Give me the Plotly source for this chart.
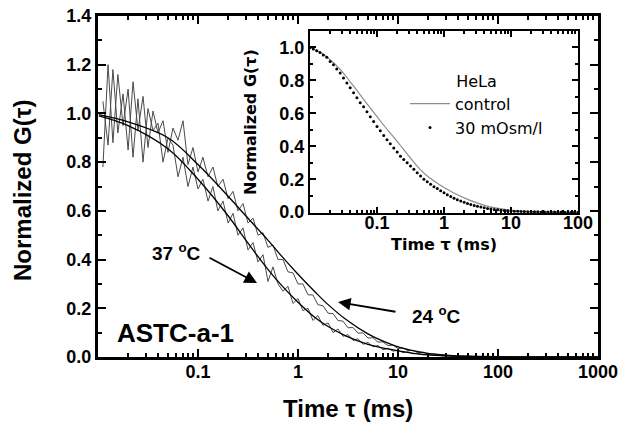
import plotly.graph_objects as go

# ---------------- data ----------------
# lag-time grid (ms)
tau_grid = [0.01, 0.0112, 0.0126, 0.0141, 0.0158, 0.0178, 0.02, 0.0224, 0.0251, 0.0282,
            0.0316, 0.0355, 0.0398, 0.0447, 0.0501, 0.0562, 0.0631, 0.0708, 0.0794, 0.0891,
            0.1, 0.112, 0.126, 0.141, 0.158, 0.178, 0.2, 0.224, 0.251, 0.282,
            0.316, 0.355, 0.398, 0.447, 0.501, 0.562, 0.631, 0.708, 0.794, 0.891,
            1.0, 1.12, 1.26, 1.41, 1.58, 1.78, 2.0, 2.24, 2.51, 2.82,
            3.16, 3.55, 3.98, 4.47, 5.01, 5.62, 6.31, 7.08, 7.94, 8.91,
            10.0, 11.2, 12.6, 14.1, 15.8, 17.8, 20.0, 22.4, 25.1, 28.2,
            31.6, 35.5, 39.8, 44.7, 50.1, 56.2, 63.1, 70.8, 79.4, 89.1, 100.0]

tau_main = [0.0112, 0.0126, 0.0141, 0.0158, 0.0178, 0.02, 0.0224, 0.0251, 0.0282,
            0.0316, 0.0355, 0.0398, 0.0447, 0.0501, 0.0562, 0.0631, 0.0708, 0.0794, 0.0891,
            0.1, 0.112, 0.126, 0.141, 0.158, 0.178, 0.2, 0.224, 0.251, 0.282,
            0.316, 0.355, 0.398, 0.447, 0.501, 0.562, 0.631, 0.708, 0.794, 0.891,
            1.0, 1.12, 1.26, 1.41, 1.58, 1.78, 2.0, 2.24, 2.51, 2.82,
            3.16, 3.55, 3.98, 4.47, 5.01, 5.62, 6.31, 7.08, 7.94, 8.91,
            10.0, 11.2, 12.6, 14.1, 15.8, 17.8, 20.0, 22.4, 25.1, 28.2,
            31.6, 39.8, 50.1, 63.1, 79.4, 100.0]

g37_data = [0.78, 1.20, 0.88, 1.16, 0.95, 1.10, 0.82, 1.06, 0.80,
            1.02, 0.93, 0.96, 0.80, 0.90, 0.87, 0.74, 0.82, 0.70, 0.78,
            0.69, 0.73, 0.64, 0.70, 0.60, 0.64, 0.55, 0.59, 0.50, 0.53,
            0.44, 0.47, 0.39, 0.42, 0.31, 0.37, 0.30, 0.27, 0.29, 0.22,
            0.24, 0.19, 0.20, 0.15, 0.17, 0.13, 0.14, 0.10, 0.115, 0.085,
            0.092, 0.068, 0.075, 0.052, 0.060, 0.042, 0.047, 0.030, 0.036, 0.024,
            0.028, 0.018, 0.021, 0.013, 0.016, 0.009, 0.011, 0.006, 0.008, 0.004,
            0.005, 0.002, 0.003, 0.001, 0.002, 0.0]

g24_data = [1.05, 0.87, 1.18, 0.92, 1.08, 0.85, 1.13, 0.93, 1.07,
            0.86, 1.01, 0.92, 0.97, 0.84, 0.94, 0.89, 0.97, 0.79, 0.86,
            0.76, 0.82, 0.74, 0.78, 0.70, 0.73, 0.65, 0.68, 0.60, 0.63,
            0.55, 0.57, 0.50, 0.51, 0.45, 0.46, 0.40, 0.40, 0.35, 0.345,
            0.30, 0.30, 0.255, 0.255, 0.215, 0.21, 0.18, 0.178, 0.15, 0.147,
            0.12, 0.121, 0.098, 0.099, 0.078, 0.079, 0.061, 0.062, 0.047, 0.049,
            0.035, 0.037, 0.026, 0.027, 0.018, 0.020, 0.012, 0.013, 0.008, 0.009,
            0.005, 0.003, 0.002, 0.003, 0.001, 0.002]

tau_fit = [0.0102, 0.02, 0.05, 0.1, 0.2, 0.3, 0.5, 0.7, 1.0, 1.5, 2.0, 3.0, 5.0, 7.0,
           10.0, 15.0, 20.0, 30.0, 50.0, 100.0, 1000.0]
fit37 = [0.99, 0.95, 0.855, 0.73, 0.58, 0.48, 0.36, 0.29, 0.225, 0.16, 0.125, 0.087,
         0.052, 0.037, 0.025, 0.014, 0.009, 0.005, 0.002, 0.0005, 0.0]
fit24 = [0.995, 0.965, 0.90, 0.79, 0.66, 0.58, 0.48, 0.41, 0.34, 0.265, 0.215, 0.155,
         0.095, 0.066, 0.042, 0.024, 0.015, 0.008, 0.003, 0.001, 0.0]

# inset (HeLa)
tau_ctrl = [0.01, 0.015, 0.02, 0.03, 0.04, 0.05, 0.07, 0.1, 0.15, 0.2, 0.3, 0.44, 0.6,
            0.87, 1.36, 2.4, 4.4, 7.6, 13.5, 30.0, 100.0]
g_ctrl = [1.0, 0.965, 0.925, 0.855, 0.79, 0.74, 0.66, 0.58, 0.49, 0.43, 0.34, 0.26, 0.21,
          0.165, 0.12, 0.073, 0.037, 0.018, 0.006, 0.002, 0.0]

g_30mosm = [1.0, 0.99, 0.98, 0.97, 0.955, 0.94, 0.915, 0.895, 0.87, 0.845,
            0.815, 0.785, 0.755, 0.725, 0.695, 0.665, 0.64, 0.61, 0.58, 0.55,
            0.52, 0.495, 0.465, 0.44, 0.415, 0.39, 0.365, 0.34, 0.32, 0.30,
            0.28, 0.26, 0.24, 0.22, 0.20, 0.185, 0.17, 0.155, 0.143, 0.13,
            0.118, 0.106, 0.095, 0.085, 0.076, 0.068, 0.06, 0.053, 0.047, 0.041,
            0.036, 0.031, 0.027, 0.023, 0.02, 0.017, 0.014, 0.012, 0.010, 0.008,
            0.007, 0.006, 0.005, 0.004, 0.0035, 0.003, 0.0025, 0.002, 0.002, 0.0015,
            0.001, 0.001, 0.001, 0.0005, 0.0005, 0.0005, 0.0, 0.0, 0.0, 0.0, 0.0]

main_ticks = [0.1, 1, 10, 100, 1000]
main_ticktext = ["0.1", "1", "10", "100", "1000"]
inset_ticks = [0.1, 1, 10, 100]
inset_ticktext = ["0.1", "1", "10", "100"]

# ---------------- figure ----------------
W, H = 621, 431
L, R, T, B = 98, 23, 16, 74
PW, PH = W - L - R, H - T - B


def px(x):
    return (x - L) / PW


def py(y):
    return (H - B - y) / PH


minor_main = [m * 10.0 ** d for d in range(-2, 3) for m in range(2, 10)]
minor_inset = [m * 10.0 ** d for d in range(-2, 2) for m in range(2, 10)]

fig = go.Figure()

DATA_COL = "#4a4a4a"
fig.add_trace(go.Scatter(x=tau_main, y=g37_data, mode="lines",
                         line=dict(color=DATA_COL, width=1), showlegend=False))
fig.add_trace(go.Scatter(x=tau_main, y=g24_data, mode="lines",
                         line=dict(color=DATA_COL, width=1), showlegend=False))
fig.add_trace(go.Scatter(x=tau_fit, y=fit37, mode="lines", line_shape="spline",
                         line=dict(color="black", width=1.3), showlegend=False))
fig.add_trace(go.Scatter(x=tau_fit, y=fit24, mode="lines", line_shape="spline",
                         line=dict(color="black", width=1.3), showlegend=False))

fig.add_trace(go.Scatter(x=tau_ctrl, y=g_ctrl, mode="lines", line_shape="spline",
                         line=dict(color="#8c8c8c", width=1.2), name="control",
                         xaxis="x2", yaxis="y2"))
fig.add_trace(go.Scatter(x=tau_grid, y=g_30mosm, mode="markers",
                         marker=dict(color="black", size=3), name="30 mOsm/l",
                         xaxis="x2", yaxis="y2"))

TICKFONT = dict(family="Liberation Sans, Arial", size=18, color="black", weight="bold")

fig.update_layout(
    template="none",
    width=W, height=H,
    margin=dict(l=L, r=R, t=T, b=B),
    paper_bgcolor="white", plot_bgcolor="white",
    xaxis=dict(type="log", range=[-2, 3], tickmode="array",
               tickvals=main_ticks, ticktext=main_ticktext,
               showline=True, linecolor="black", linewidth=3, mirror="allticks",
               ticks="inside", ticklen=8, tickwidth=2, tickcolor="black",
               ticklabelstandoff=-4,
               showgrid=False, zeroline=False, tickfont=TICKFONT,
               minor=dict(tickmode="array", tickvals=minor_main, ticklen=4, tickwidth=2,
                          ticks="inside", tickcolor="black", showgrid=False)),
    yaxis=dict(range=[0, 1.4], dtick=0.2, tickformat=".1f",
               showline=True, linecolor="black", linewidth=3, mirror="allticks",
               ticks="inside", ticklen=8, tickwidth=2, tickcolor="black",
               showgrid=False, zeroline=False, tickfont=TICKFONT,
               minor=dict(dtick=0.1, ticklen=4, tickwidth=2, ticks="inside",
                          tickcolor="black", showgrid=False)),
    xaxis2=dict(type="log", range=[-2, 2], domain=[px(310), px(578)], anchor="y2",
                tickmode="array", tickvals=inset_ticks, ticktext=inset_ticktext,
                showline=True, linecolor="black", linewidth=2, mirror="allticks",
                ticks="inside", ticklen=6, tickwidth=1.5, tickcolor="black",
                ticklabelstandoff=-8,
                showgrid=False, zeroline=False, tickfont=TICKFONT,
                minor=dict(tickmode="array", tickvals=minor_inset, ticklen=3, tickwidth=1.5,
                           ticks="inside", tickcolor="black", showgrid=False)),
    yaxis2=dict(range=[-0.005, 1.1], domain=[py(213), py(31)], anchor="x2",
                dtick=0.2, tickformat=".1f",
                showline=True, linecolor="black", linewidth=2, mirror="allticks",
                ticks="inside", ticklen=6, tickwidth=1.5, tickcolor="black",
                showgrid=False, zeroline=False, tickfont=TICKFONT,
                minor=dict(dtick=0.1, ticklen=3, tickwidth=1.5, ticks="inside",
                           tickcolor="black", showgrid=False)),
    legend=dict(x=px(405), y=py(66), xanchor="left", yanchor="top",
                bgcolor="rgba(0,0,0,0)",
                font=dict(family="DejaVu Sans", size=16, color="black"),
                title=dict(text="HeLa", side="top center",
                           font=dict(family="DejaVu Sans", size=16, color="black")),
                itemwidth=40, tracegroupgap=0),
)

TITLE_FONT = dict(family="Liberation Sans, Arial", size=24, color="black", weight="bold")
ann = []
ann.append(dict(text="Time τ (ms)", x=px(348), y=py(408), xref="paper", yref="paper",
                showarrow=False, font=TITLE_FONT, xanchor="center", yanchor="middle"))
ann.append(dict(text="Normalized G(τ)", x=px(22), y=py(191), xref="paper", yref="paper",
                showarrow=False, font=TITLE_FONT, textangle=-90,
                xanchor="center", yanchor="middle"))
INSET_TITLE = dict(family="DejaVu Sans", size=16, color="black", weight="bold")
ann.append(dict(text="Time τ (ms)", x=px(444), y=py(244), xref="paper", yref="paper",
                showarrow=False, font=INSET_TITLE, xanchor="center", yanchor="middle"))
ann.append(dict(text="Normalized G(τ)", x=px(251), y=py(122), xref="paper", yref="paper",
                showarrow=False, font=INSET_TITLE, textangle=-90,
                xanchor="center", yanchor="middle"))
LABEL = dict(family="Liberation Sans, Arial", size=19, color="black", weight="bold")
ann.append(dict(text="37 <sup>o</sup>C", x=px(176), y=py(252), xref="paper", yref="paper",
                showarrow=False, font=LABEL, xanchor="center", yanchor="middle"))
ann.append(dict(text="24 <sup>o</sup>C", x=px(436), y=py(315), xref="paper", yref="paper",
                showarrow=False, font=LABEL, xanchor="center", yanchor="middle"))
ann.append(dict(text="ASTC-a-1", x=px(175), y=py(333), xref="paper", yref="paper",
                showarrow=False,
                font=dict(family="Liberation Sans, Arial", size=26, color="black", weight="bold"),
                xanchor="center", yanchor="middle"))
# arrows
ann.append(dict(text="", x=px(257), y=py(283), xref="paper", yref="paper",
                ax=208 - 257, ay=257 - 283, showarrow=True, arrowhead=2, arrowsize=1.4,
                arrowwidth=1.8, arrowcolor="black"))
ann.append(dict(text="", x=px(338), y=py(302), xref="paper", yref="paper",
                ax=397 - 338, ay=312 - 302, showarrow=True, arrowhead=2, arrowsize=1.4,
                arrowwidth=1.8, arrowcolor="black"))
fig.update_layout(annotations=ann)

fig.write_html("out.html")
